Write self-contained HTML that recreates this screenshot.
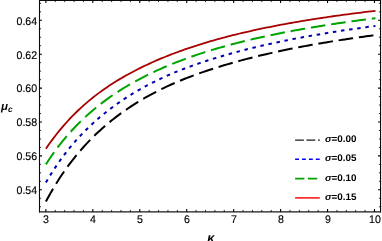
<!DOCTYPE html>
<html><head><meta charset="utf-8"><style>
html,body{margin:0;padding:0;background:#fff;}
body{width:382px;height:241px;position:relative;overflow:hidden;font-family:"Liberation Sans",sans-serif;color:#000;}
#txt{text-rendering:geometricPrecision;position:absolute;left:0;top:0;width:382px;height:241px;will-change:transform;}
.yl{position:absolute;left:0;width:37.2px;text-align:right;font-size:11px;line-height:12px;height:12px;-webkit-text-stroke:0.15px #000;transform:scaleX(0.965);transform-origin:100% 50%;}
.xl{position:absolute;top:214.3px;width:20px;text-align:center;font-size:11px;line-height:12px;height:12px;-webkit-text-stroke:0.15px #000;transform:scaleX(0.965);transform-origin:50% 50%;}
.lg{position:absolute;left:325.4px;font-size:9.6px;line-height:12px;height:12px;font-weight:bold;white-space:nowrap;transform:scaleX(1.03);transform-origin:0 50%;}
.mu{position:absolute;left:1px;top:99.7px;font-size:11.5px;line-height:14px;font-weight:bold;font-style:italic;white-space:nowrap;}
.mu span{font-size:8.3px;position:relative;top:2.2px;left:0px;}
.ka{position:absolute;left:207.2px;top:230.9px;font-size:12.6px;line-height:14px;font-weight:bold;font-style:italic;}
</style></head><body>
<svg width="382" height="241" viewBox="0 0 382 241" style="position:absolute;left:0;top:0">
<path d="M45.90,201.57 L48.25,197.20 L50.61,192.98 L52.96,188.92 L55.32,185.01 L57.67,181.23 L60.02,177.58 L62.38,174.06 L64.73,170.65 L67.09,167.35 L69.44,164.16 L71.80,161.07 L74.15,158.08 L76.50,155.18 L78.86,152.37 L81.21,149.64 L83.57,146.99 L85.92,144.42 L88.27,141.92 L90.63,139.49 L92.98,137.13 L95.34,134.82 L97.69,132.58 L100.05,130.40 L102.40,128.28 L104.75,126.21 L107.11,124.19 L109.46,122.23 L111.82,120.32 L114.17,118.46 L116.52,116.64 L118.88,114.87 L121.23,113.14 L123.59,111.46 L125.94,109.81 L128.29,108.21 L130.65,106.64 L133.00,105.11 L135.36,103.62 L137.71,102.15 L140.07,100.73 L142.42,99.33 L144.77,97.96 L147.13,96.63 L149.48,95.32 L151.84,94.04 L154.19,92.79 L156.54,91.57 L158.90,90.37 L161.25,89.20 L163.61,88.06 L165.96,86.94 L168.32,85.85 L170.67,84.77 L173.02,83.73 L175.38,82.70 L177.73,81.69 L180.09,80.71 L182.44,79.74 L184.79,78.79 L187.15,77.87 L189.50,76.96 L191.86,76.06 L194.21,75.19 L196.57,74.33 L198.92,73.48 L201.27,72.65 L203.63,71.83 L205.98,71.03 L208.34,70.24 L210.69,69.47 L213.04,68.70 L215.40,67.95 L217.75,67.21 L220.11,66.48 L222.46,65.77 L224.81,65.06 L227.17,64.36 L229.52,63.67 L231.88,62.99 L234.23,62.33 L236.59,61.67 L238.94,61.02 L241.29,60.38 L243.65,59.75 L246.00,59.13 L248.36,58.52 L250.71,57.92 L253.06,57.32 L255.42,56.74 L257.77,56.16 L260.13,55.59 L262.48,55.03 L264.84,54.47 L267.19,53.92 L269.54,53.39 L271.90,52.85 L274.25,52.33 L276.61,51.81 L278.96,51.30 L281.31,50.80 L283.67,50.30 L286.02,49.81 L288.38,49.33 L290.73,48.85 L293.08,48.38 L295.44,47.92 L297.79,47.46 L300.15,47.01 L302.50,46.57 L304.86,46.13 L307.21,45.69 L309.56,45.27 L311.92,44.84 L314.27,44.42 L316.63,44.01 L318.98,43.60 L321.33,43.20 L323.69,42.80 L326.04,42.40 L328.40,42.01 L330.75,41.63 L333.11,41.25 L335.46,40.87 L337.81,40.50 L340.17,40.13 L342.52,39.76 L344.88,39.40 L347.23,39.05 L349.58,38.70 L351.94,38.35 L354.29,38.00 L356.65,37.66 L359.00,37.32 L361.36,36.99 L363.71,36.66 L366.06,36.33 L368.42,36.01 L370.77,35.69 L373.13,35.37 L375.48,35.06" fill="none" stroke="#000000" stroke-width="2.0" stroke-dasharray="14.7 5.8" stroke-linejoin="round"/>
<path d="M45.90,182.41 L48.25,178.45 L50.61,174.62 L52.96,170.92 L55.32,167.34 L57.67,163.88 L60.02,160.54 L62.38,157.30 L64.73,154.17 L67.09,151.13 L69.44,148.19 L71.80,145.34 L74.15,142.58 L76.50,139.91 L78.86,137.32 L81.21,134.81 L83.57,132.37 L85.92,129.99 L88.27,127.69 L90.63,125.44 L92.98,123.26 L95.34,121.13 L97.69,119.06 L100.05,117.04 L102.40,115.08 L104.75,113.16 L107.11,111.29 L109.46,109.47 L111.82,107.69 L114.17,105.95 L116.52,104.26 L118.88,102.60 L121.23,100.99 L123.59,99.41 L125.94,97.87 L128.29,96.36 L130.65,94.89 L133.00,93.44 L135.36,92.03 L137.71,90.65 L140.07,89.30 L142.42,87.98 L144.77,86.69 L147.13,85.42 L149.48,84.18 L151.84,82.97 L154.19,81.78 L156.54,80.62 L158.90,79.49 L161.25,78.38 L163.61,77.29 L165.96,76.23 L168.32,75.19 L170.67,74.17 L173.02,73.18 L175.38,72.20 L177.73,71.24 L180.09,70.31 L182.44,69.39 L184.79,68.49 L187.15,67.60 L189.50,66.73 L191.86,65.88 L194.21,65.04 L196.57,64.22 L198.92,63.41 L201.27,62.61 L203.63,61.83 L205.98,61.06 L208.34,60.30 L210.69,59.56 L213.04,58.82 L215.40,58.09 L217.75,57.38 L220.11,56.67 L222.46,55.97 L224.81,55.28 L227.17,54.60 L229.52,53.93 L231.88,53.27 L234.23,52.62 L236.59,51.99 L238.94,51.36 L241.29,50.73 L243.65,50.12 L246.00,49.52 L248.36,48.93 L250.71,48.34 L253.06,47.77 L255.42,47.20 L257.77,46.64 L260.13,46.09 L262.48,45.54 L264.84,45.00 L267.19,44.47 L269.54,43.95 L271.90,43.43 L274.25,42.93 L276.61,42.42 L278.96,41.93 L281.31,41.44 L283.67,40.96 L286.02,40.48 L288.38,40.01 L290.73,39.55 L293.08,39.09 L295.44,38.63 L297.79,38.19 L300.15,37.74 L302.50,37.31 L304.86,36.88 L307.21,36.45 L309.56,36.03 L311.92,35.61 L314.27,35.20 L316.63,34.79 L318.98,34.39 L321.33,33.99 L323.69,33.59 L326.04,33.20 L328.40,32.82 L330.75,32.43 L333.11,32.06 L335.46,31.68 L337.81,31.31 L340.17,30.95 L342.52,30.58 L344.88,30.22 L347.23,29.87 L349.58,29.52 L351.94,29.17 L354.29,28.83 L356.65,28.49 L359.00,28.15 L361.36,27.81 L363.71,27.48 L366.06,27.16 L368.42,26.83 L370.77,26.51 L373.13,26.19 L375.48,25.88" fill="none" stroke="#0000b4" stroke-width="2.0" stroke-dasharray="3.5 4.7" stroke-linejoin="round"/>
<path d="M45.90,164.34 L48.25,160.73 L50.61,157.25 L52.96,153.88 L55.32,150.63 L57.67,147.47 L60.02,144.42 L62.38,141.47 L64.73,138.61 L67.09,135.83 L69.44,133.14 L71.80,130.53 L74.15,127.99 L76.50,125.53 L78.86,123.14 L81.21,120.81 L83.57,118.55 L85.92,116.36 L88.27,114.23 L90.63,112.15 L92.98,110.14 L95.34,108.18 L97.69,106.27 L100.05,104.41 L102.40,102.60 L104.75,100.83 L107.11,99.11 L109.46,97.43 L111.82,95.80 L114.17,94.20 L116.52,92.64 L118.88,91.12 L121.23,89.63 L123.59,88.17 L125.94,86.75 L128.29,85.36 L130.65,84.00 L133.00,82.67 L135.36,81.36 L137.71,80.08 L140.07,78.83 L142.42,77.60 L144.77,76.40 L147.13,75.21 L149.48,74.05 L151.84,72.91 L154.19,71.80 L156.54,70.70 L158.90,69.63 L161.25,68.57 L163.61,67.54 L165.96,66.53 L168.32,65.53 L170.67,64.56 L173.02,63.60 L175.38,62.66 L177.73,61.74 L180.09,60.83 L182.44,59.94 L184.79,59.07 L187.15,58.21 L189.50,57.36 L191.86,56.53 L194.21,55.72 L196.57,54.91 L198.92,54.13 L201.27,53.35 L203.63,52.59 L205.98,51.84 L208.34,51.10 L210.69,50.38 L213.04,49.66 L215.40,48.96 L217.75,48.27 L220.11,47.59 L222.46,46.92 L224.81,46.26 L227.17,45.61 L229.52,44.97 L231.88,44.34 L234.23,43.72 L236.59,43.11 L238.94,42.51 L241.29,41.91 L243.65,41.33 L246.00,40.75 L248.36,40.19 L250.71,39.63 L253.06,39.08 L255.42,38.53 L257.77,38.00 L260.13,37.47 L262.48,36.94 L264.84,36.43 L267.19,35.92 L269.54,35.42 L271.90,34.93 L274.25,34.44 L276.61,33.96 L278.96,33.49 L281.31,33.02 L283.67,32.56 L286.02,32.10 L288.38,31.65 L290.73,31.21 L293.08,30.77 L295.44,30.34 L297.79,29.91 L300.15,29.49 L302.50,29.07 L304.86,28.66 L307.21,28.25 L309.56,27.85 L311.92,27.45 L314.27,27.06 L316.63,26.67 L318.98,26.28 L321.33,25.90 L323.69,25.53 L326.04,25.16 L328.40,24.79 L330.75,24.43 L333.11,24.07 L335.46,23.71 L337.81,23.36 L340.17,23.01 L342.52,22.67 L344.88,22.33 L347.23,21.99 L349.58,21.66 L351.94,21.33 L354.29,21.00 L356.65,20.68 L359.00,20.36 L361.36,20.04 L363.71,19.73 L366.06,19.42 L368.42,19.11 L370.77,18.81 L373.13,18.51 L375.48,18.21" fill="none" stroke="#00a400" stroke-width="2.0" stroke-dasharray="14.6 5.92" stroke-linejoin="round"/>
<path d="M45.90,148.74 L48.25,145.33 L50.61,142.04 L52.96,138.85 L55.32,135.76 L57.67,132.78 L60.02,129.89 L62.38,127.09 L64.73,124.38 L67.09,121.75 L69.44,119.21 L71.80,116.73 L74.15,114.34 L76.50,112.01 L78.86,109.75 L81.21,107.56 L83.57,105.44 L85.92,103.37 L88.27,101.36 L90.63,99.41 L92.98,97.51 L95.34,95.66 L97.69,93.87 L100.05,92.12 L102.40,90.41 L104.75,88.75 L107.11,87.14 L109.46,85.56 L111.82,84.02 L114.17,82.52 L116.52,81.05 L118.88,79.62 L121.23,78.23 L123.59,76.86 L125.94,75.52 L128.29,74.22 L130.65,72.94 L133.00,71.69 L135.36,70.46 L137.71,69.26 L140.07,68.09 L142.42,66.93 L144.77,65.80 L147.13,64.69 L149.48,63.59 L151.84,62.52 L154.19,61.47 L156.54,60.44 L158.90,59.43 L161.25,58.43 L163.61,57.46 L165.96,56.50 L168.32,55.56 L170.67,54.64 L173.02,53.74 L175.38,52.85 L177.73,51.98 L180.09,51.12 L182.44,50.28 L184.79,49.45 L187.15,48.64 L189.50,47.84 L191.86,47.05 L194.21,46.28 L196.57,45.52 L198.92,44.77 L201.27,44.04 L203.63,43.31 L205.98,42.60 L208.34,41.90 L210.69,41.22 L213.04,40.54 L215.40,39.87 L217.75,39.22 L220.11,38.57 L222.46,37.93 L224.81,37.31 L227.17,36.69 L229.52,36.09 L231.88,35.49 L234.23,34.90 L236.59,34.32 L238.94,33.75 L241.29,33.18 L243.65,32.63 L246.00,32.08 L248.36,31.54 L250.71,31.01 L253.06,30.48 L255.42,29.97 L257.77,29.46 L260.13,28.95 L262.48,28.46 L264.84,27.97 L267.19,27.49 L269.54,27.01 L271.90,26.54 L274.25,26.08 L276.61,25.62 L278.96,25.17 L281.31,24.72 L283.67,24.28 L286.02,23.85 L288.38,23.42 L290.73,23.00 L293.08,22.59 L295.44,22.18 L297.79,21.77 L300.15,21.37 L302.50,20.97 L304.86,20.58 L307.21,20.20 L309.56,19.82 L311.92,19.44 L314.27,19.07 L316.63,18.71 L318.98,18.34 L321.33,17.99 L323.69,17.63 L326.04,17.29 L328.40,16.94 L330.75,16.60 L333.11,16.26 L335.46,15.93 L337.81,15.60 L340.17,15.28 L342.52,14.96 L344.88,14.64 L347.23,14.33 L349.58,14.02 L351.94,13.71 L354.29,13.41 L356.65,13.11 L359.00,12.82 L361.36,12.52 L363.71,12.23 L366.06,11.95 L368.42,11.67 L370.77,11.39 L373.13,11.11 L375.48,10.84" fill="none" stroke="#a80000" stroke-width="1.8" stroke-linejoin="round"/>
<path d="M39.5,0.0 V212.5 M380.55,0.0 V212.5" stroke="#0c0c0c" stroke-width="1.1" fill="none"/>
<path d="M39.0,0.5 H381.05" stroke="#0c0c0c" stroke-width="1.0" fill="none"/>
<path d="M39.0,211.9 H381.05" stroke="#1a1a1a" stroke-width="1.25" fill="none"/>
<path d="M45.90,211.9 v-2.9 M45.90,0.5 v2.5 M92.84,211.9 v-2.9 M92.84,0.5 v2.5 M139.78,211.9 v-2.9 M139.78,0.5 v2.5 M186.72,211.9 v-2.9 M186.72,0.5 v2.5 M233.66,211.9 v-2.9 M233.66,0.5 v2.5 M280.60,211.9 v-2.9 M280.60,0.5 v2.5 M327.54,211.9 v-2.9 M327.54,0.5 v2.5 M374.48,211.9 v-2.9 M374.48,0.5 v2.5 M39.5,189.80 h2.5 M380.55,189.80 h-2.5 M39.5,155.90 h2.5 M380.55,155.90 h-2.5 M39.5,122.00 h2.5 M380.55,122.00 h-2.5 M39.5,88.10 h2.5 M380.55,88.10 h-2.5 M39.5,54.20 h2.5 M380.55,54.20 h-2.5 M39.5,20.30 h2.5 M380.55,20.30 h-2.5" stroke="#000" stroke-width="1.1" fill="none"/>
<path d="M55.29,211.9 v-2.0 M55.29,0.5 v1.6 M64.68,211.9 v-2.0 M64.68,0.5 v1.6 M74.06,211.9 v-2.0 M74.06,0.5 v1.6 M83.45,211.9 v-2.0 M83.45,0.5 v1.6 M102.23,211.9 v-2.0 M102.23,0.5 v1.6 M111.62,211.9 v-2.0 M111.62,0.5 v1.6 M121.00,211.9 v-2.0 M121.00,0.5 v1.6 M130.39,211.9 v-2.0 M130.39,0.5 v1.6 M149.17,211.9 v-2.0 M149.17,0.5 v1.6 M158.56,211.9 v-2.0 M158.56,0.5 v1.6 M167.94,211.9 v-2.0 M167.94,0.5 v1.6 M177.33,211.9 v-2.0 M177.33,0.5 v1.6 M196.11,211.9 v-2.0 M196.11,0.5 v1.6 M205.50,211.9 v-2.0 M205.50,0.5 v1.6 M214.88,211.9 v-2.0 M214.88,0.5 v1.6 M224.27,211.9 v-2.0 M224.27,0.5 v1.6 M243.05,211.9 v-2.0 M243.05,0.5 v1.6 M252.44,211.9 v-2.0 M252.44,0.5 v1.6 M261.82,211.9 v-2.0 M261.82,0.5 v1.6 M271.21,211.9 v-2.0 M271.21,0.5 v1.6 M289.99,211.9 v-2.0 M289.99,0.5 v1.6 M299.38,211.9 v-2.0 M299.38,0.5 v1.6 M308.76,211.9 v-2.0 M308.76,0.5 v1.6 M318.15,211.9 v-2.0 M318.15,0.5 v1.6 M336.93,211.9 v-2.0 M336.93,0.5 v1.6 M346.32,211.9 v-2.0 M346.32,0.5 v1.6 M355.70,211.9 v-2.0 M355.70,0.5 v1.6 M365.09,211.9 v-2.0 M365.09,0.5 v1.6 M39.5,206.75 h1.6 M380.55,206.75 h-1.6 M39.5,198.28 h1.6 M380.55,198.28 h-1.6 M39.5,181.33 h1.6 M380.55,181.33 h-1.6 M39.5,172.85 h1.6 M380.55,172.85 h-1.6 M39.5,164.38 h1.6 M380.55,164.38 h-1.6 M39.5,147.42 h1.6 M380.55,147.42 h-1.6 M39.5,138.95 h1.6 M380.55,138.95 h-1.6 M39.5,130.47 h1.6 M380.55,130.47 h-1.6 M39.5,113.53 h1.6 M380.55,113.53 h-1.6 M39.5,105.05 h1.6 M380.55,105.05 h-1.6 M39.5,96.58 h1.6 M380.55,96.58 h-1.6 M39.5,79.63 h1.6 M380.55,79.63 h-1.6 M39.5,71.15 h1.6 M380.55,71.15 h-1.6 M39.5,62.68 h1.6 M380.55,62.68 h-1.6 M39.5,45.73 h1.6 M380.55,45.73 h-1.6 M39.5,37.25 h1.6 M380.55,37.25 h-1.6 M39.5,28.78 h1.6 M380.55,28.78 h-1.6 M39.5,11.83 h1.6 M380.55,11.83 h-1.6 M39.5,3.35 h1.6 M380.55,3.35 h-1.6" stroke="#000" stroke-width="0.8" fill="none"/>
<path d="M295.1,140.15 H319.8" stroke="#1c1c1c" stroke-width="1.1" stroke-dasharray="8.8 2.5 8.9 2.7 1.8 10" fill="none"/>
<path d="M295.1,159.3 H319.8" stroke="#0000f5" stroke-width="1.6" stroke-dasharray="3.9 3.0" fill="none"/>
<path d="M295.1,178.5 H317.3" stroke="#00a200" stroke-width="1.75" stroke-dasharray="9.3 3.5" fill="none"/>
<path d="M295.1,197.9 H319.8" stroke="#ff3232" stroke-width="1.75" fill="none"/>
</svg>
<div id="txt">
<div class="yl" style="top:185.1px">0.54</div>
<div class="yl" style="top:151.2px">0.56</div>
<div class="yl" style="top:117.3px">0.58</div>
<div class="yl" style="top:83.4px">0.60</div>
<div class="yl" style="top:49.5px">0.62</div>
<div class="yl" style="top:15.6px">0.64</div>
<div class="xl" style="left:35.9px">3</div>
<div class="xl" style="left:82.8px">4</div>
<div class="xl" style="left:129.8px">5</div>
<div class="xl" style="left:176.7px">6</div>
<div class="xl" style="left:223.7px">7</div>
<div class="xl" style="left:270.6px">8</div>
<div class="xl" style="left:317.5px">9</div>
<div class="xl" style="left:364.5px">10</div>
<div class="lg" style="top:133.5px"><i>&sigma;</i>=0.00</div>
<div class="lg" style="top:153.4px"><i>&sigma;</i>=0.05</div>
<div class="lg" style="top:172.7px"><i>&sigma;</i>=0.10</div>
<div class="lg" style="top:191.6px"><i>&sigma;</i>=0.15</div>
<div class="mu">&mu;<span>c</span></div>
<div class="ka">&kappa;</div>
</div>
</body></html>
